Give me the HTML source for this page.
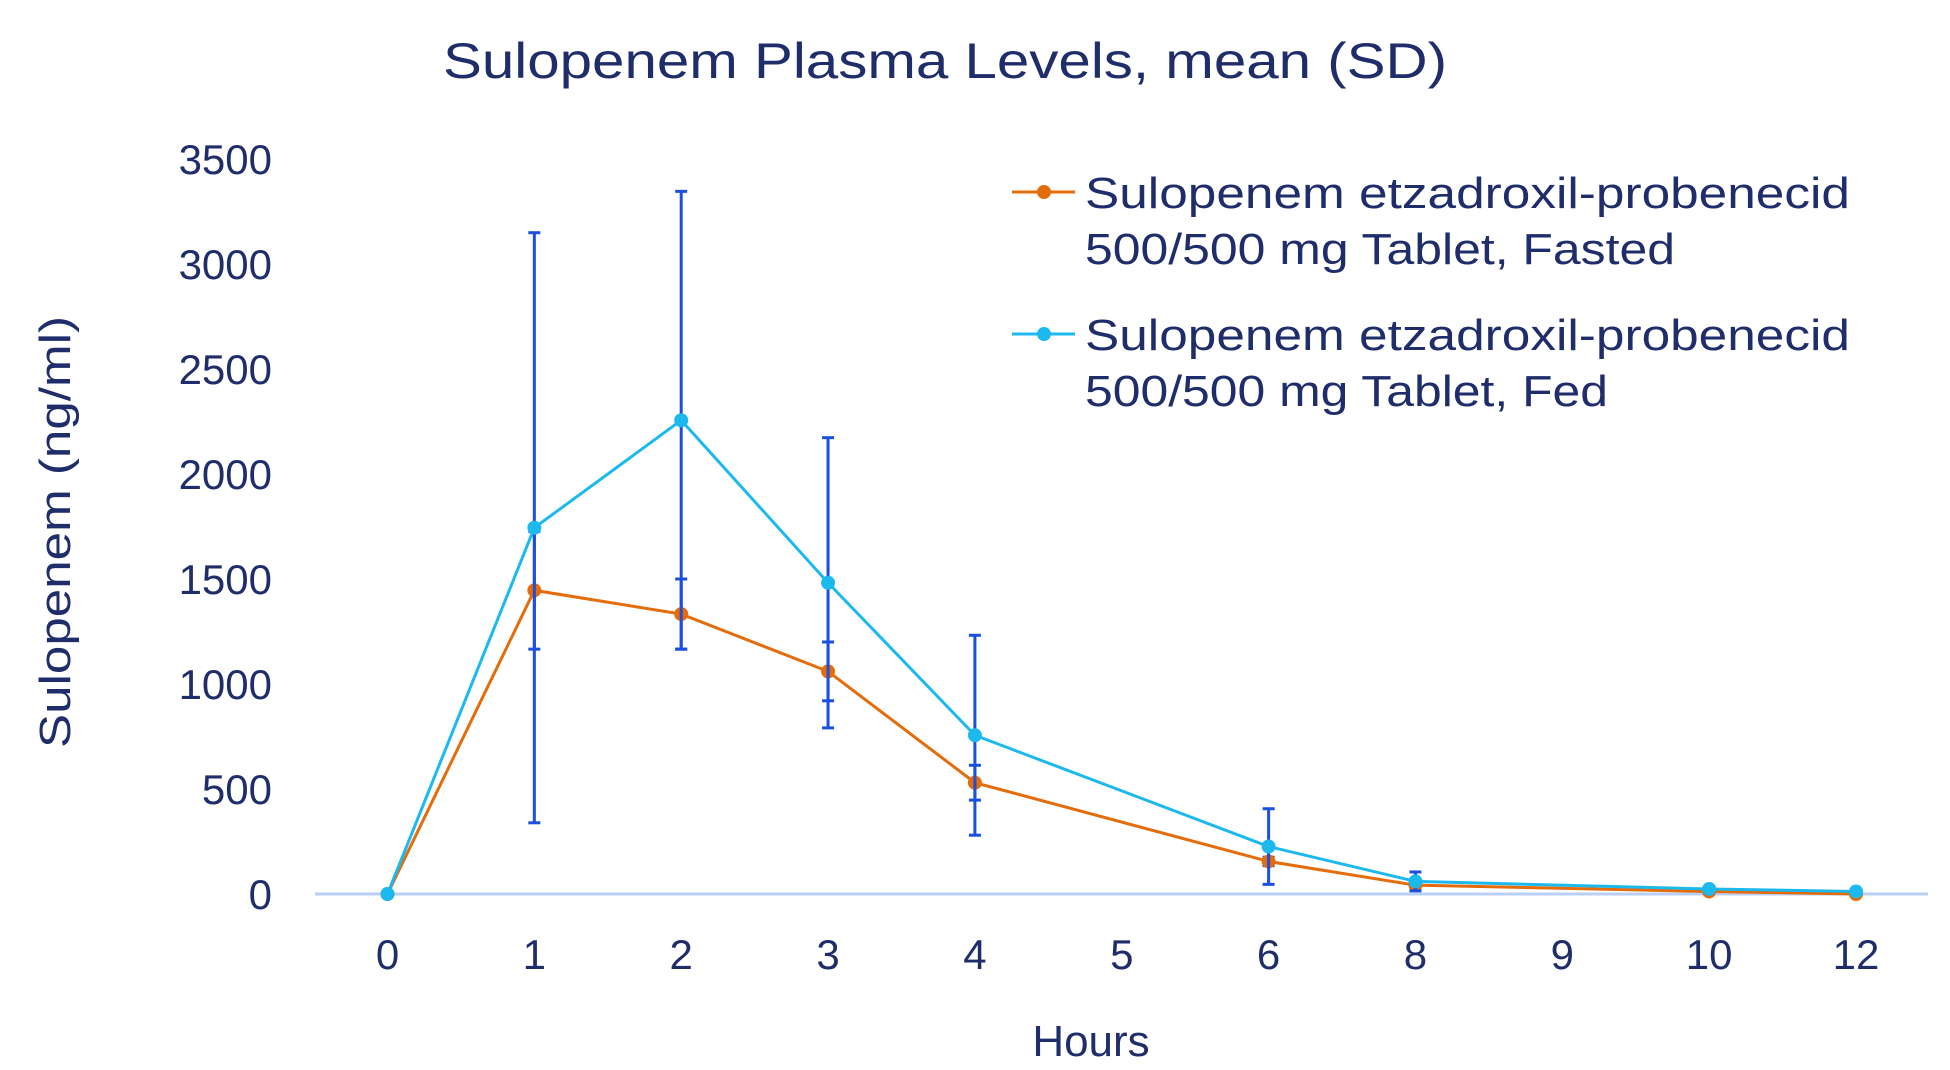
<!DOCTYPE html>
<html><head><meta charset="utf-8"><style>
html,body{margin:0;padding:0;background:#fff;}
svg{display:block;font-family:"Liberation Sans",sans-serif;}
</style></head><body>
<svg id="chart" width="1950" height="1070" viewBox="0 0 1950 1070">
<text x="945" y="78" text-anchor="middle" font-size="50" fill="#1f2d6b" textLength="1004" lengthAdjust="spacingAndGlyphs">Sulopenem Plasma Levels, mean (SD)</text>
<text transform="translate(70,532) rotate(-90)" text-anchor="middle" font-size="44" fill="#1f2d6b" textLength="432" lengthAdjust="spacingAndGlyphs">Sulopenem (ng/ml)</text>
<text x="1091" y="1056" text-anchor="middle" font-size="44" fill="#1f2d6b">Hours</text>
<g id="yticks"></g><g id="xticks"></g>
<line x1="315" y1="894" x2="1928" y2="894" stroke="#b9cff5" stroke-width="3"/>
<g id="plot"></g>
<g>
<g>
<line x1="1012" y1="192" x2="1075" y2="192" stroke="#e46c0a" stroke-width="3"/>
<circle cx="1044" cy="192" r="7" fill="#e46c0a"/>
<text x="1085" y="208" font-size="44" fill="#1f2d6b" textLength="765" lengthAdjust="spacingAndGlyphs">Sulopenem etzadroxil-probenecid</text>
<text x="1085" y="264" font-size="44" fill="#1f2d6b" textLength="590" lengthAdjust="spacingAndGlyphs">500/500 mg Tablet, Fasted</text>
</g>
<g>
<line x1="1012" y1="334" x2="1075" y2="334" stroke="#1cb9ef" stroke-width="3"/>
<circle cx="1044" cy="334" r="7" fill="#1cb9ef"/>
<text x="1085" y="350" font-size="44" fill="#1f2d6b" textLength="765" lengthAdjust="spacingAndGlyphs">Sulopenem etzadroxil-probenecid</text>
<text x="1085" y="406" font-size="44" fill="#1f2d6b" textLength="523" lengthAdjust="spacingAndGlyphs">500/500 mg Tablet, Fed</text>
</g>
</g>
</svg>
<script>
const categories = ["0","1","2","3","4","5","6","8","9","10","12"];
const yTicks = [0,500,1000,1500,2000,2500,3000,3500];
const fastedX = ["0","1","2","3","4","6","8","10","12"];
const fastedMean = [0,1446,1333,1060,530,155,42,12,0];
const fastedSD = [0,280,167,140,83,20,10,4,3];
const fedX = ["0","1","2","3","4","6","8","10","12"];
const fedMean = [0,1744,2256,1482,756,226,60,24,12];
const fedSD = [0,1405,1090,691,476,180,45,8,10];

const NS = "http://www.w3.org/2000/svg";
const x = c => 387.5 + categories.indexOf(c) * 146.85;
const y = v => 894 - v * (735 / 3500);
function mk(tag, attrs, parent){const e=document.createElementNS(NS,tag);for(const k in attrs)e.setAttribute(k,attrs[k]);parent.appendChild(e);return e;}
const yt=document.getElementById('yticks'), xt=document.getElementById('xticks'), plot=document.getElementById('plot');
yTicks.forEach(v=>{
  const t=mk('text',{x:272,y:y(v)+15,'text-anchor':'end','font-size':42,fill:'#1f2d6b'},yt);
  
  
  t.textContent=v;
});
categories.forEach(c=>{
  const t=mk('text',{x:x(c),y:969,'text-anchor':'middle','font-size':42,fill:'#1f2d6b'},xt);
  
  
  t.textContent=c;
});
function series(xs, means, sds, color, name){
  const g=mk('g',{},plot);
  
  
  mk('polyline',{points:xs.map((c,i)=>x(c)+','+y(means[i])).join(' '),fill:'none',stroke:color,'stroke-width':3},g);
  return g;
}
function errs(g, xs, means, sds){
  xs.forEach((c,i)=>{
    if(!sds[i]) return;
    const cx=x(c), t=y(means[i]+sds[i]), b=y(Math.max(0,means[i]-sds[i]));
    const e=mk('g',{stroke:'#1a4fe0','stroke-width':3},g);
    
    
    mk('line',{x1:cx,y1:t,x2:cx,y2:b},e);
    mk('line',{x1:cx-6,y1:t,x2:cx+6,y2:t},e);
    mk('line',{x1:cx-6,y1:b,x2:cx+6,y2:b},e);
  });
}
function points(g, xs, means, color){
  xs.forEach((c,i)=>{
    const p=mk('circle',{cx:x(c),cy:y(means[i]),r:7,fill:color},g);
    
    
  });
}
const gFast=series(fastedX,fastedMean,fastedSD,'#e46c0a','fasted');
const gFed=series(fedX,fedMean,fedSD,'#1cb9ef','fed');
errs(gFed,fedX,fedMean,fedSD);
errs(gFast,fastedX,fastedMean,fastedSD);
points(gFast,fastedX,fastedMean,'#e46c0a');
points(gFed,fedX,fedMean,'#1cb9ef');
</script>
</body></html>
